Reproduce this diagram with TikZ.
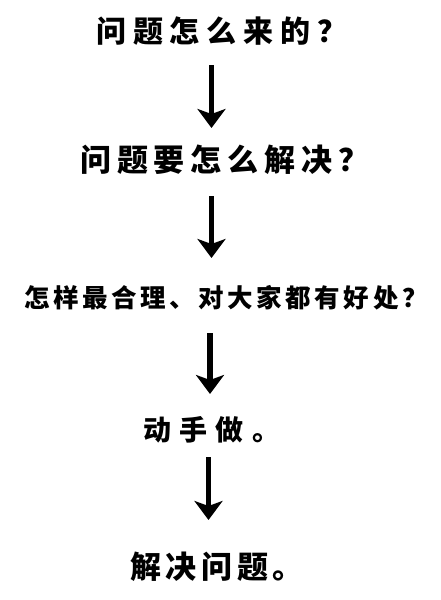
\documentclass[tikz,border=0pt]{standalone}
\usepackage{fontspec}
\newfontfamily\cjk{Noto Sans CJK SC}
\usetikzlibrary{arrows.meta}
\begin{document}
\begin{tikzpicture}[x=1pt,y=-1pt,
  line/.style={anchor=west,inner sep=0pt,font=\cjk\bfseries},
  flow/.style={line width=5.5pt,-{Stealth[length=19pt,width=28pt,inset=5pt]}}]
\useasboundingbox[fill=white] (0,0) rectangle (440,600);
\node[line] (t1) at (96,31) {\fontsize{30}{32}\selectfont\addfontfeature{LetterSpace=23}问题怎么来的？};
\node[line] (t2) at (80,160) {\fontsize{31}{33}\selectfont\addfontfeature{LetterSpace=19}问题要怎么解决？};
\node[line] (t3) at (24,298) {\fontsize{25.5}{28}\selectfont\addfontfeature{LetterSpace=14}怎样最合理、对大家都有好处？};
\node[line] (t4) at (143,430) {\fontsize{28}{30}\selectfont\addfontfeature{LetterSpace=30}动手做。};
\node[line] (t5) at (130,567) {\fontsize{31}{33}\selectfont\addfontfeature{LetterSpace=15}解决问题。};
\coordinate (a1s) at (211.5,65);  \coordinate (a1e) at (211.5,128);
\coordinate (a2s) at (211.5,196); \coordinate (a2e) at (211.5,258);
\coordinate (a3s) at (210,333);   \coordinate (a3e) at (210,394);
\coordinate (a4s) at (208.5,457); \coordinate (a4e) at (208.5,520);
\draw[flow] (a1s) -- (a1e);
\draw[flow] (a2s) -- (a2e);
\draw[flow] (a3s) -- (a3e);
\draw[flow] (a4s) -- (a4e);
\end{tikzpicture}
\end{document}
